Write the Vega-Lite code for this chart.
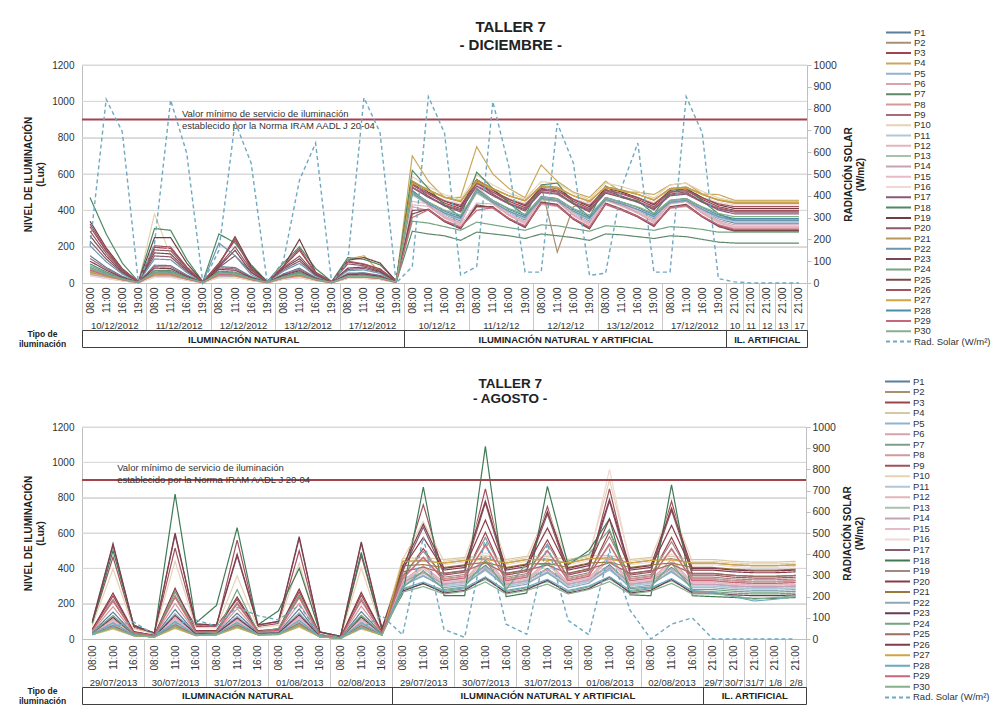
{
"$schema":"https://vega.github.io/schema/vega-lite/v6.json",
"background":"white",
"padding":{"left":18,"top":20,"right":0,"bottom":0},
"config":{"font":"Liberation Sans","view":{"stroke":null},"axis":{"labelFont":"Liberation Sans","titleFont":"Liberation Sans","labelColor":"#333","titleColor":"#222"},"legend":{"labelFont":"Liberation Sans","symbolLimit":40},"title":{"font":"Liberation Sans","fontWeight":"bold","color":"#222"}},
"datasets":{
"grid":[{"g":200},{"g":400},{"g":600},{"g":800},{"g":1000},{"g":1200}],
"top":[
{"i":1,"P1":150,"P2":75,"P3":310,"P4":60,"P5":55,"P6":50,"P7":105,"P8":55,"P9":135,"P10":45,"P11":50,"P12":50,"P13":50,"P14":45,"P15":40,"P16":40,"P17":230,"P18":470,"P19":340,"P20":285,"P21":60,"P22":205,"P23":120,"P24":95,"P25":260,"P26":325,"P27":65,"P28":85,"P29":70,"P30":80,"R":170},
{"i":2,"P1":86,"P2":46,"P3":176,"P4":38,"P5":35,"P6":33,"P7":61,"P8":35,"P9":79,"P10":28,"P11":30,"P12":30,"P13":33,"P14":28,"P15":25,"P16":25,"P17":132,"P18":270,"P19":194,"P20":163,"P21":38,"P22":117,"P23":71,"P24":56,"P25":148,"P26":183,"P27":41,"P28":51,"P29":43,"P30":48,"R":843},
{"i":3,"P1":37,"P2":20,"P3":72,"P4":17,"P5":16,"P6":15,"P7":26,"P8":16,"P9":34,"P10":13,"P11":14,"P12":14,"P13":15,"P14":13,"P15":12,"P16":12,"P17":55,"P18":110,"P19":79,"P20":67,"P21":17,"P22":49,"P23":30,"P24":24,"P25":61,"P26":75,"P27":18,"P28":22,"P29":19,"P30":21,"R":694},
{"i":4,"P1":3,"P2":2,"P3":6,"P4":2,"P5":2,"P6":2,"P7":3,"P8":2,"P9":3,"P10":2,"P11":2,"P12":2,"P13":2,"P14":2,"P15":2,"P16":2,"P17":5,"P18":8,"P19":6,"P20":5,"P21":2,"P22":4,"P23":3,"P24":3,"P25":5,"P26":6,"P27":2,"P28":3,"P29":2,"P30":3,"R":0},
{"i":5,"P1":98,"P2":54,"P3":196,"P4":45,"P5":42,"P6":40,"P7":70,"P8":42,"P9":90,"P10":380,"P11":37,"P12":37,"P13":40,"P14":34,"P15":31,"P16":31,"P17":149,"P18":300,"P19":250,"P20":182,"P21":45,"P22":132,"P23":82,"P24":65,"P25":166,"P26":205,"P27":48,"P28":59,"P29":51,"P30":56,"R":180},
{"i":6,"P1":96,"P2":52,"P3":190,"P4":44,"P5":42,"P6":39,"P7":69,"P8":42,"P9":88,"P10":150,"P11":36,"P12":36,"P13":39,"P14":34,"P15":31,"P16":31,"P17":144,"P18":290,"P19":250,"P20":177,"P21":44,"P22":128,"P23":79,"P24":63,"P25":160,"P26":198,"P27":47,"P28":58,"P29":50,"P30":55,"R":839},
{"i":7,"P1":44,"P2":24,"P3":86,"P4":21,"P5":20,"P6":18,"P7":32,"P8":20,"P9":40,"P10":60,"P11":17,"P12":17,"P13":18,"P14":16,"P15":15,"P16":15,"P17":65,"P18":130,"P19":110,"P20":80,"P21":21,"P22":58,"P23":36,"P24":29,"P25":72,"P26":89,"P27":22,"P28":27,"P29":23,"P30":26,"R":596},
{"i":8,"P1":3,"P2":2,"P3":6,"P4":2,"P5":2,"P6":2,"P7":3,"P8":2,"P9":3,"P10":2,"P11":2,"P12":2,"P13":2,"P14":2,"P15":2,"P16":2,"P17":5,"P18":8,"P19":6,"P20":5,"P21":2,"P22":4,"P23":3,"P24":3,"P25":5,"P26":6,"P27":2,"P28":3,"P29":2,"P30":3,"R":0},
{"i":9,"P1":90,"P2":50,"P3":110,"P4":43,"P5":40,"P6":38,"P7":65,"P8":40,"P9":83,"P10":33,"P11":35,"P12":35,"P13":38,"P14":33,"P15":30,"P16":30,"P17":85,"P18":270,"P19":100,"P20":95,"P21":43,"P22":220,"P23":75,"P24":60,"P25":90,"P26":105,"P27":45,"P28":55,"P29":48,"P30":53,"R":150},
{"i":10,"P1":85,"P2":48,"P3":235,"P4":40,"P5":38,"P6":36,"P7":60,"P8":38,"P9":78,"P10":32,"P11":34,"P12":34,"P13":36,"P14":32,"P15":30,"P16":30,"P17":150,"P18":220,"P19":255,"P20":200,"P21":40,"P22":150,"P23":70,"P24":56,"P25":180,"P26":245,"P27":42,"P28":52,"P29":45,"P30":50,"R":740},
{"i":11,"P1":35,"P2":21,"P3":80,"P4":18,"P5":17,"P6":16,"P7":26,"P8":17,"P9":32,"P10":15,"P11":15,"P12":15,"P13":16,"P14":15,"P15":14,"P16":14,"P17":60,"P18":100,"P19":90,"P20":70,"P21":18,"P22":46,"P23":30,"P24":24,"P25":58,"P26":75,"P27":19,"P28":23,"P29":20,"P30":22,"R":550},
{"i":12,"P1":3,"P2":2,"P3":6,"P4":2,"P5":2,"P6":2,"P7":3,"P8":2,"P9":3,"P10":2,"P11":2,"P12":2,"P13":2,"P14":2,"P15":2,"P16":2,"P17":5,"P18":8,"P19":6,"P20":5,"P21":2,"P22":4,"P23":3,"P24":3,"P25":5,"P26":6,"P27":2,"P28":3,"P29":2,"P30":3,"R":0},
{"i":13,"P1":50,"P2":30,"P3":90,"P4":26,"P5":25,"P6":24,"P7":38,"P8":25,"P9":46,"P10":21,"P11":23,"P12":23,"P13":24,"P14":21,"P15":20,"P16":20,"P17":72,"P18":110,"P19":90,"P20":85,"P21":26,"P22":65,"P23":43,"P24":35,"P25":80,"P26":95,"P27":28,"P28":33,"P29":29,"P30":31,"R":100},
{"i":14,"P1":82,"P2":46,"P3":180,"P4":40,"P5":38,"P6":35,"P7":60,"P8":38,"P9":75,"P10":31,"P11":33,"P12":33,"P13":35,"P14":31,"P15":29,"P16":29,"P17":121,"P18":200,"P19":240,"P20":148,"P21":40,"P22":108,"P23":68,"P24":55,"P25":134,"P26":190,"P27":42,"P28":51,"P29":44,"P30":49,"R":472},
{"i":15,"P1":30,"P2":18,"P3":54,"P4":16,"P5":16,"P6":15,"P7":23,"P8":16,"P9":28,"P10":14,"P11":14,"P12":14,"P13":15,"P14":14,"P15":13,"P16":13,"P17":42,"P18":80,"P19":60,"P20":50,"P21":16,"P22":38,"P23":25,"P24":21,"P25":46,"P26":56,"P27":17,"P28":20,"P29":18,"P30":19,"R":642},
{"i":16,"P1":3,"P2":2,"P3":6,"P4":2,"P5":2,"P6":2,"P7":3,"P8":2,"P9":3,"P10":2,"P11":2,"P12":2,"P13":2,"P14":2,"P15":2,"P16":2,"P17":5,"P18":8,"P19":6,"P20":5,"P21":2,"P22":4,"P23":3,"P24":3,"P25":5,"P26":6,"P27":2,"P28":3,"P29":2,"P30":3,"R":0},
{"i":17,"P1":54,"P2":34,"P3":115,"P4":130,"P5":30,"P6":28,"P7":42,"P8":30,"P9":50,"P10":26,"P11":27,"P12":27,"P13":28,"P14":26,"P15":25,"P16":25,"P17":75,"P18":140,"P19":125,"P20":105,"P21":31,"P22":68,"P23":46,"P24":39,"P25":82,"P26":120,"P27":32,"P28":37,"P29":33,"P30":36,"R":100},
{"i":18,"P1":56,"P2":36,"P3":102,"P4":150,"P5":30,"P6":29,"P7":43,"P8":30,"P9":53,"P10":27,"P11":28,"P12":28,"P13":29,"P14":27,"P15":25,"P16":25,"P17":80,"P18":130,"P19":140,"P20":95,"P21":32,"P22":72,"P23":49,"P24":41,"P25":88,"P26":105,"P27":33,"P28":38,"P29":34,"P30":37,"R":850},
{"i":19,"P1":42,"P2":26,"P3":75,"P4":60,"P5":23,"P6":22,"P7":32,"P8":23,"P9":39,"P10":20,"P11":21,"P12":21,"P13":22,"P14":20,"P15":19,"P16":19,"P17":59,"P18":100,"P19":110,"P20":70,"P21":24,"P22":53,"P23":36,"P24":30,"P25":64,"P26":78,"P27":25,"P28":28,"P29":25,"P30":27,"R":690},
{"i":20,"P1":5,"P2":4,"P3":9,"P4":6,"P5":4,"P6":4,"P7":5,"P8":4,"P9":5,"P10":3,"P11":3,"P12":3,"P13":4,"P14":3,"P15":3,"P16":3,"P17":7,"P18":12,"P19":10,"P20":8,"P21":4,"P22":6,"P23":5,"P24":4,"P25":7,"P26":9,"P27":4,"P28":5,"P29":4,"P30":5,"R":0},
{"i":21,"P1":510,"P2":560,"P3":550,"P4":700,"P5":490,"P6":420,"P7":285,"P8":505,"P9":530,"P10":585,"P11":500,"P12":430,"P13":485,"P14":500,"P15":450,"P16":535,"P17":545,"P18":620,"P19":560,"P20":525,"P21":560,"P22":495,"P23":400,"P24":340,"P25":380,"P26":540,"P27":550,"P28":505,"P29":360,"P30":500,"R":75},
{"i":22,"P1":438,"P2":512,"P3":490,"P4":560,"P5":430,"P6":399,"P7":270,"P8":427,"P9":476,"P10":531,"P11":434,"P12":422,"P13":431,"P14":428,"P15":436,"P16":493,"P17":479,"P18":520,"P19":500,"P20":471,"P21":512,"P22":435,"P23":402,"P24":330,"P25":407,"P26":492,"P27":508,"P28":445,"P29":403,"P30":446,"R":855},
{"i":23,"P1":378,"P2":472,"P3":440,"P4":470,"P5":380,"P6":344,"P7":260,"P8":362,"P9":431,"P10":486,"P11":379,"P12":357,"P13":386,"P14":368,"P15":366,"P16":458,"P17":424,"P18":430,"P19":450,"P20":426,"P21":472,"P22":385,"P23":337,"P24":310,"P25":342,"P26":452,"P27":473,"P28":395,"P29":343,"P30":401,"R":688},
{"i":24,"P1":342,"P2":448,"P3":410,"P4":471,"P5":350,"P6":311,"P7":235,"P8":323,"P9":404,"P10":459,"P11":346,"P12":318,"P13":359,"P14":332,"P15":324,"P16":437,"P17":391,"P18":363,"P19":420,"P20":399,"P21":448,"P22":355,"P23":298,"P24":290,"P25":303,"P26":428,"P27":452,"P28":365,"P29":307,"P30":374,"R":37},
{"i":25,"P1":522,"P2":568,"P3":560,"P4":750,"P5":500,"P6":420,"P7":280,"P8":518,"P9":539,"P10":594,"P11":511,"P12":440,"P13":494,"P14":512,"P15":534,"P16":542,"P17":556,"P18":610,"P19":570,"P20":534,"P21":568,"P22":505,"P23":430,"P24":335,"P25":420,"P26":548,"P27":557,"P28":515,"P29":400,"P30":509,"R":75},
{"i":26,"P1":450,"P2":520,"P3":500,"P4":600,"P5":440,"P6":410,"P7":270,"P8":440,"P9":485,"P10":540,"P11":445,"P12":435,"P13":440,"P14":440,"P15":450,"P16":500,"P17":490,"P18":520,"P19":510,"P20":480,"P21":520,"P22":445,"P23":415,"P24":320,"P25":420,"P26":500,"P27":515,"P28":455,"P29":415,"P30":455,"R":832},
{"i":27,"P1":390,"P2":480,"P3":450,"P4":520,"P5":390,"P6":355,"P7":260,"P8":375,"P9":440,"P10":495,"P11":390,"P12":370,"P13":395,"P14":380,"P15":380,"P16":465,"P17":435,"P18":440,"P19":460,"P20":435,"P21":480,"P22":395,"P23":350,"P24":305,"P25":355,"P26":460,"P27":480,"P28":405,"P29":355,"P30":410,"R":533},
{"i":28,"P1":348,"P2":452,"P3":415,"P4":470,"P5":355,"P6":316,"P7":245,"P8":330,"P9":408,"P10":463,"P11":352,"P12":325,"P13":363,"P14":338,"P15":331,"P16":440,"P17":396,"P18":372,"P19":425,"P20":403,"P21":452,"P22":360,"P23":305,"P24":290,"P25":310,"P26":432,"P27":455,"P28":370,"P29":313,"P30":378,"R":50},
{"i":29,"P1":474,"P2":536,"P3":520,"P4":650,"P5":460,"P6":432,"P7":270,"P8":466,"P9":503,"P10":558,"P11":467,"P12":461,"P13":458,"P14":464,"P15":478,"P16":514,"P17":512,"P18":540,"P19":530,"P20":498,"P21":536,"P22":465,"P23":441,"P24":320,"P25":446,"P26":516,"P27":529,"P28":475,"P29":439,"P30":473,"R":50},
{"i":30,"P1":462,"P2":170,"P3":510,"P4":560,"P5":450,"P6":421,"P7":260,"P8":453,"P9":494,"P10":549,"P11":456,"P12":448,"P13":449,"P14":452,"P15":464,"P16":507,"P17":501,"P18":550,"P19":520,"P20":489,"P21":528,"P22":455,"P23":428,"P24":315,"P25":433,"P26":508,"P27":522,"P28":465,"P29":427,"P30":464,"R":733},
{"i":31,"P1":390,"P2":420,"P3":450,"P4":500,"P5":390,"P6":355,"P7":250,"P8":375,"P9":440,"P10":495,"P11":390,"P12":370,"P13":395,"P14":380,"P15":380,"P16":465,"P17":435,"P18":440,"P19":460,"P20":435,"P21":480,"P22":395,"P23":350,"P24":300,"P25":355,"P26":460,"P27":480,"P28":405,"P29":355,"P30":410,"R":550},
{"i":32,"P1":342,"P2":448,"P3":410,"P4":471,"P5":350,"P6":311,"P7":235,"P8":323,"P9":404,"P10":459,"P11":346,"P12":318,"P13":359,"P14":332,"P15":324,"P16":437,"P17":391,"P18":363,"P19":420,"P20":399,"P21":448,"P22":355,"P23":298,"P24":285,"P25":303,"P26":428,"P27":452,"P28":365,"P29":307,"P30":374,"R":35},
{"i":33,"P1":470,"P2":530,"P3":515,"P4":560,"P5":455,"P6":430,"P7":270,"P8":460,"P9":500,"P10":550,"P11":462,"P12":455,"P13":455,"P14":460,"P15":470,"P16":510,"P17":508,"P18":535,"P19":525,"P20":495,"P21":530,"P22":460,"P23":435,"P24":315,"P25":440,"P26":512,"P27":525,"P28":470,"P29":435,"P30":470,"R":45},
{"i":34,"P1":438,"P2":510,"P3":490,"P4":500,"P5":430,"P6":399,"P7":265,"P8":427,"P9":476,"P10":531,"P11":434,"P12":422,"P13":431,"P14":428,"P15":436,"P16":493,"P17":479,"P18":470,"P19":500,"P20":471,"P21":512,"P22":435,"P23":402,"P24":310,"P25":407,"P26":492,"P27":508,"P28":445,"P29":403,"P30":446,"R":440},
{"i":35,"P1":402,"P2":488,"P3":460,"P4":500,"P5":400,"P6":366,"P7":255,"P8":388,"P9":449,"P10":504,"P11":401,"P12":383,"P13":404,"P14":392,"P15":394,"P16":472,"P17":446,"P18":453,"P19":470,"P20":444,"P21":488,"P22":405,"P23":363,"P24":300,"P25":368,"P26":468,"P27":487,"P28":415,"P29":367,"P30":419,"R":642},
{"i":36,"P1":354,"P2":456,"P3":420,"P4":487,"P5":360,"P6":322,"P7":245,"P8":336,"P9":413,"P10":468,"P11":357,"P12":331,"P13":368,"P14":344,"P15":338,"P16":444,"P17":402,"P18":381,"P19":430,"P20":408,"P21":456,"P22":365,"P23":311,"P24":290,"P25":316,"P26":436,"P27":459,"P28":375,"P29":319,"P30":383,"R":50},
{"i":37,"P1":450,"P2":520,"P3":500,"P4":540,"P5":440,"P6":410,"P7":260,"P8":440,"P9":485,"P10":540,"P11":445,"P12":435,"P13":440,"P14":440,"P15":450,"P16":500,"P17":490,"P18":500,"P19":510,"P20":480,"P21":520,"P22":445,"P23":415,"P24":310,"P25":420,"P26":500,"P27":515,"P28":455,"P29":415,"P30":455,"R":50},
{"i":38,"P1":462,"P2":528,"P3":510,"P4":550,"P5":450,"P6":421,"P7":255,"P8":453,"P9":494,"P10":549,"P11":456,"P12":448,"P13":449,"P14":452,"P15":464,"P16":507,"P17":501,"P18":520,"P19":520,"P20":489,"P21":528,"P22":455,"P23":428,"P24":305,"P25":433,"P26":508,"P27":522,"P28":465,"P29":427,"P30":464,"R":855},
{"i":39,"P1":402,"P2":488,"P3":460,"P4":490,"P5":400,"P6":366,"P7":240,"P8":388,"P9":449,"P10":504,"P11":401,"P12":383,"P13":404,"P14":392,"P15":394,"P16":472,"P17":446,"P18":453,"P19":470,"P20":444,"P21":488,"P22":405,"P23":363,"P24":295,"P25":368,"P26":468,"P27":487,"P28":415,"P29":367,"P30":419,"R":688},
{"i":40,"P1":354,"P2":456,"P3":420,"P4":487,"P5":360,"P6":322,"P7":225,"P8":336,"P9":413,"P10":468,"P11":357,"P12":331,"P13":368,"P14":344,"P15":338,"P16":444,"P17":402,"P18":381,"P19":430,"P20":408,"P21":456,"P22":365,"P23":311,"P24":280,"P25":316,"P26":436,"P27":459,"P28":375,"P29":319,"P30":383,"R":20},
{"i":41,"P1":330,"P2":440,"P3":400,"P4":455,"P5":340,"P6":300,"P7":220,"P8":310,"P9":395,"P10":450,"P11":335,"P12":305,"P13":350,"P14":320,"P15":310,"P16":430,"P17":380,"P18":345,"P19":410,"P20":390,"P21":440,"P22":345,"P23":285,"P24":280,"P25":290,"P26":420,"P27":445,"P28":355,"P29":295,"P30":365,"R":5},
{"i":42,"P1":330,"P2":440,"P3":400,"P4":455,"P5":340,"P6":300,"P7":220,"P8":310,"P9":395,"P10":450,"P11":335,"P12":305,"P13":350,"P14":320,"P15":310,"P16":430,"P17":380,"P18":345,"P19":410,"P20":390,"P21":440,"P22":345,"P23":285,"P24":280,"P25":290,"P26":420,"P27":445,"P28":355,"P29":295,"P30":365,"R":0},
{"i":43,"P1":330,"P2":440,"P3":400,"P4":455,"P5":340,"P6":300,"P7":220,"P8":310,"P9":395,"P10":450,"P11":335,"P12":305,"P13":350,"P14":320,"P15":310,"P16":430,"P17":380,"P18":345,"P19":410,"P20":390,"P21":440,"P22":345,"P23":285,"P24":280,"P25":290,"P26":420,"P27":445,"P28":355,"P29":295,"P30":365,"R":0},
{"i":44,"P1":330,"P2":440,"P3":400,"P4":455,"P5":340,"P6":300,"P7":220,"P8":310,"P9":395,"P10":450,"P11":335,"P12":305,"P13":350,"P14":320,"P15":310,"P16":430,"P17":380,"P18":345,"P19":410,"P20":390,"P21":440,"P22":345,"P23":285,"P24":280,"P25":290,"P26":420,"P27":445,"P28":355,"P29":295,"P30":365,"R":0},
{"i":45,"P1":330,"P2":440,"P3":400,"P4":455,"P5":340,"P6":300,"P7":220,"P8":310,"P9":395,"P10":450,"P11":335,"P12":305,"P13":350,"P14":320,"P15":310,"P16":430,"P17":380,"P18":345,"P19":410,"P20":390,"P21":440,"P22":345,"P23":285,"P24":280,"P25":290,"P26":420,"P27":445,"P28":355,"P29":295,"P30":365,"R":0}
],
"bot":[
{"i":1,"P1":39,"P2":26,"P3":54,"P4":24,"P5":30,"P6":33,"P7":26,"P8":44,"P9":88,"P10":78,"P11":29,"P12":32,"P13":26,"P14":28,"P15":31,"P16":27,"P17":98,"P18":90,"P19":50,"P20":56,"P21":26,"P22":36,"P23":34,"P24":36,"P25":27,"P26":100,"P27":25,"P28":30,"P29":49,"P30":26,"R":20},
{"i":2,"P1":152,"P2":71,"P3":244,"P4":56,"P5":96,"P6":112,"P7":71,"P8":183,"P9":464,"P10":397,"P11":86,"P12":107,"P13":71,"P14":81,"P15":101,"P16":76,"P17":530,"P18":500,"P19":224,"P20":260,"P21":66,"P22":132,"P23":122,"P24":132,"P25":76,"P26":540,"P27":61,"P28":91,"P29":214,"P30":66,"R":60},
{"i":3,"P1":29,"P2":20,"P3":40,"P4":18,"P5":23,"P6":25,"P7":20,"P8":33,"P9":66,"P10":58,"P11":22,"P12":24,"P13":20,"P14":21,"P15":23,"P16":20,"P17":74,"P18":80,"P19":38,"P20":42,"P21":19,"P22":27,"P23":26,"P24":27,"P25":20,"P26":75,"P27":19,"P28":22,"P29":37,"P30":19,"R":80},
{"i":4,"P1":16,"P2":12,"P3":20,"P4":11,"P5":13,"P6":14,"P7":12,"P8":17,"P9":31,"P10":28,"P11":13,"P12":14,"P13":12,"P14":12,"P15":13,"P16":12,"P17":34,"P18":30,"P19":19,"P20":21,"P21":12,"P22":15,"P23":14,"P24":15,"P25":12,"P26":35,"P27":11,"P28":13,"P29":19,"P30":12,"R":20},
{"i":5,"P1":167,"P2":76,"P3":269,"P4":59,"P5":104,"P6":121,"P7":76,"P8":201,"P9":515,"P10":440,"P11":93,"P12":116,"P13":76,"P14":87,"P15":110,"P16":81,"P17":589,"P18":820,"P19":247,"P20":287,"P21":70,"P22":144,"P23":133,"P24":270,"P25":81,"P26":600,"P27":64,"P28":98,"P29":235,"P30":70,"R":70},
{"i":6,"P1":32,"P2":21,"P3":70,"P4":19,"P5":24,"P6":26,"P7":21,"P8":36,"P9":75,"P10":65,"P11":23,"P12":26,"P13":21,"P14":22,"P15":25,"P16":21,"P17":84,"P18":90,"P19":42,"P20":47,"P21":20,"P22":29,"P23":28,"P24":40,"P25":21,"P26":85,"P27":19,"P28":23,"P29":40,"P30":20,"R":90},
{"i":7,"P1":34,"P2":25,"P3":75,"P4":23,"P5":28,"P6":30,"P7":25,"P8":38,"P9":71,"P10":63,"P11":27,"P12":29,"P13":25,"P14":26,"P15":28,"P16":25,"P17":79,"P18":190,"P19":43,"P20":47,"P21":24,"P22":32,"P23":31,"P24":32,"P25":25,"P26":80,"P27":24,"P28":27,"P29":42,"P30":24,"R":60},
{"i":8,"P1":146,"P2":75,"P3":225,"P4":62,"P5":97,"P6":110,"P7":75,"P8":172,"P9":560,"P10":357,"P11":88,"P12":106,"P13":75,"P14":84,"P15":102,"P16":80,"P17":470,"P18":630,"P19":207,"P20":238,"P21":71,"P22":128,"P23":119,"P24":280,"P25":80,"P26":480,"P27":66,"P28":93,"P29":198,"P30":71,"R":150},
{"i":9,"P1":34,"P2":25,"P3":45,"P4":23,"P5":28,"P6":30,"P7":25,"P8":38,"P9":71,"P10":63,"P11":27,"P12":29,"P13":25,"P14":26,"P15":28,"P16":25,"P17":79,"P18":80,"P19":43,"P20":47,"P21":24,"P22":32,"P23":31,"P24":40,"P25":25,"P26":80,"P27":24,"P28":27,"P29":42,"P30":24,"R":110},
{"i":10,"P1":39,"P2":26,"P3":54,"P4":24,"P5":30,"P6":33,"P7":26,"P8":44,"P9":88,"P10":78,"P11":29,"P12":32,"P13":26,"P14":28,"P15":31,"P16":27,"P17":98,"P18":160,"P19":50,"P20":56,"P21":26,"P22":36,"P23":34,"P24":60,"P25":27,"P26":100,"P27":25,"P28":30,"P29":49,"P30":26,"R":90},
{"i":11,"P1":170,"P2":83,"P3":267,"P4":67,"P5":110,"P6":126,"P7":83,"P8":202,"P9":500,"P10":429,"P11":99,"P12":121,"P13":83,"P14":94,"P15":116,"P16":89,"P17":569,"P18":400,"P19":245,"P20":283,"P21":78,"P22":148,"P23":137,"P24":250,"P25":89,"P26":580,"P27":72,"P28":105,"P29":234,"P30":78,"R":160},
{"i":12,"P1":17,"P2":12,"P3":23,"P4":12,"P5":14,"P6":15,"P7":12,"P8":19,"P9":36,"P10":32,"P11":13,"P12":15,"P13":12,"P14":13,"P15":14,"P16":13,"P17":39,"P18":40,"P19":21,"P20":24,"P21":12,"P22":16,"P23":15,"P24":20,"P25":13,"P26":40,"P27":12,"P28":14,"P29":21,"P30":12,"R":20},
{"i":13,"P1":6,"P2":4,"P3":8,"P4":4,"P5":5,"P6":5,"P7":4,"P8":7,"P9":13,"P10":12,"P11":4,"P12":5,"P13":4,"P14":4,"P15":5,"P16":4,"P17":15,"P18":15,"P19":8,"P20":8,"P21":4,"P22":5,"P23":5,"P24":5,"P25":4,"P26":15,"P27":4,"P28":4,"P29":7,"P30":4,"R":10},
{"i":14,"P1":155,"P2":72,"P3":248,"P4":56,"P5":98,"P6":113,"P7":72,"P8":186,"P9":472,"P10":404,"P11":87,"P12":108,"P13":72,"P14":82,"P15":103,"P16":77,"P17":540,"P18":490,"P19":228,"P20":264,"P21":66,"P22":134,"P23":124,"P24":134,"P25":77,"P26":550,"P27":61,"P28":92,"P29":217,"P30":66,"R":50},
{"i":15,"P1":30,"P2":23,"P3":37,"P4":22,"P5":25,"P6":26,"P7":23,"P8":32,"P9":54,"P10":49,"P11":24,"P12":26,"P13":23,"P14":24,"P15":26,"P16":24,"P17":59,"P18":50,"P19":35,"P20":38,"P21":23,"P22":28,"P23":27,"P24":28,"P25":24,"P26":60,"P27":22,"P28":25,"P29":34,"P30":23,"R":110},
{"i":16,"P1":320,"P2":440,"P3":350,"P4":455,"P5":310,"P6":330,"P7":280,"P8":350,"P9":375,"P10":450,"P11":310,"P12":320,"P13":340,"P14":320,"P15":330,"P16":430,"P17":385,"P18":255,"P19":360,"P20":400,"P21":415,"P22":300,"P23":270,"P24":290,"P25":380,"P26":410,"P27":440,"P28":285,"P29":340,"P30":265,"R":20},
{"i":17,"P1":378,"P2":446,"P3":512,"P4":461,"P5":355,"P6":414,"P7":312,"P8":460,"P9":760,"P10":664,"P11":363,"P12":399,"P13":377,"P14":373,"P15":401,"P16":462,"P17":633,"P18":860,"P19":496,"P20":575,"P21":421,"P22":358,"P23":315,"P24":387,"P25":407,"P26":650,"P27":441,"P28":322,"P29":463,"P30":297,"R":480},
{"i":18,"P1":310,"P2":430,"P3":340,"P4":450,"P5":300,"P6":320,"P7":268,"P8":340,"P9":362,"P10":440,"P11":300,"P12":310,"P13":330,"P14":310,"P15":320,"P16":420,"P17":372,"P18":245,"P19":350,"P20":390,"P21":405,"P22":290,"P23":260,"P24":280,"P25":370,"P26":400,"P27":430,"P28":275,"P29":330,"P30":255,"R":45},
{"i":19,"P1":325,"P2":445,"P3":355,"P4":462,"P5":315,"P6":335,"P7":285,"P8":355,"P9":378,"P10":455,"P11":315,"P12":325,"P13":345,"P14":325,"P15":335,"P16":435,"P17":388,"P18":245,"P19":365,"P20":405,"P21":420,"P22":305,"P23":275,"P24":295,"P25":385,"P26":415,"P27":445,"P28":290,"P29":345,"P30":270,"R":8},
{"i":20,"P1":417,"P2":459,"P3":603,"P4":471,"P5":388,"P6":466,"P7":338,"P8":525,"P9":850,"P10":781,"P11":399,"P12":448,"P13":406,"P14":409,"P15":447,"P16":488,"P17":770,"P18":1090,"P19":574,"P20":673,"P21":434,"P22":397,"P23":348,"P24":446,"P25":430,"P26":780,"P27":451,"P28":351,"P29":535,"P30":323,"R":480},
{"i":21,"P1":310,"P2":430,"P3":340,"P4":450,"P5":300,"P6":320,"P7":268,"P8":340,"P9":362,"P10":440,"P11":300,"P12":310,"P13":330,"P14":310,"P15":320,"P16":420,"P17":372,"P18":240,"P19":350,"P20":390,"P21":405,"P22":290,"P23":260,"P24":280,"P25":370,"P26":400,"P27":430,"P28":275,"P29":330,"P30":255,"R":70},
{"i":22,"P1":330,"P2":450,"P3":360,"P4":468,"P5":320,"P6":340,"P7":290,"P8":360,"P9":382,"P10":460,"P11":320,"P12":330,"P13":350,"P14":330,"P15":340,"P16":440,"P17":392,"P18":260,"P19":370,"P20":410,"P21":425,"P22":310,"P23":280,"P24":430,"P25":390,"P26":420,"P27":450,"P28":295,"P29":350,"P30":275,"R":22},
{"i":23,"P1":399,"P2":453,"P3":561,"P4":466,"P5":373,"P6":442,"P7":326,"P8":495,"P9":750,"P10":727,"P11":382,"P12":425,"P13":393,"P14":392,"P15":426,"P16":476,"P17":707,"P18":864,"P19":538,"P20":628,"P21":428,"P22":379,"P23":333,"P24":419,"P25":419,"P26":720,"P27":446,"P28":338,"P29":502,"P30":311,"R":450},
{"i":24,"P1":310,"P2":430,"P3":340,"P4":450,"P5":300,"P6":320,"P7":268,"P8":340,"P9":362,"P10":440,"P11":300,"P12":310,"P13":330,"P14":310,"P15":320,"P16":420,"P17":372,"P18":420,"P19":350,"P20":390,"P21":405,"P22":290,"P23":260,"P24":440,"P25":370,"P26":400,"P27":430,"P28":275,"P29":330,"P30":255,"R":88},
{"i":25,"P1":335,"P2":455,"P3":365,"P4":472,"P5":325,"P6":345,"P7":295,"P8":365,"P9":388,"P10":465,"P11":325,"P12":335,"P13":355,"P14":335,"P15":345,"P16":445,"P17":398,"P18":500,"P19":375,"P20":415,"P21":430,"P22":315,"P23":285,"P24":480,"P25":395,"P26":425,"P27":455,"P28":300,"P29":355,"P30":280,"R":20},
{"i":26,"P1":420,"P2":460,"P3":610,"P4":472,"P5":390,"P6":470,"P7":340,"P8":530,"P9":850,"P10":900,"P11":402,"P12":452,"P13":408,"P14":412,"P15":450,"P16":960,"P17":780,"P18":680,"P19":580,"P20":680,"P21":435,"P22":400,"P23":350,"P24":620,"P25":432,"P26":790,"P27":452,"P28":353,"P29":540,"P30":325,"R":420},
{"i":27,"P1":310,"P2":430,"P3":340,"P4":450,"P5":300,"P6":320,"P7":268,"P8":340,"P9":362,"P10":440,"P11":300,"P12":310,"P13":330,"P14":310,"P15":320,"P16":420,"P17":372,"P18":250,"P19":350,"P20":390,"P21":405,"P22":290,"P23":260,"P24":285,"P25":370,"P26":400,"P27":430,"P28":275,"P29":330,"P30":255,"R":135},
{"i":28,"P1":325,"P2":445,"P3":355,"P4":462,"P5":315,"P6":335,"P7":285,"P8":355,"P9":378,"P10":455,"P11":315,"P12":325,"P13":345,"P14":325,"P15":335,"P16":435,"P17":388,"P18":245,"P19":365,"P20":405,"P21":420,"P22":305,"P23":275,"P24":295,"P25":385,"P26":415,"P27":445,"P28":290,"P29":345,"P30":270,"R":0},
{"i":29,"P1":405,"P2":455,"P3":575,"P4":468,"P5":378,"P6":450,"P7":330,"P8":505,"P9":780,"P10":745,"P11":388,"P12":433,"P13":397,"P14":398,"P15":433,"P16":480,"P17":728,"P18":873,"P19":550,"P20":643,"P21":430,"P22":385,"P23":338,"P24":428,"P25":423,"P26":740,"P27":448,"P28":342,"P29":513,"P30":315,"R":70},
{"i":30,"P1":310,"P2":430,"P3":340,"P4":450,"P5":300,"P6":320,"P7":268,"P8":340,"P9":362,"P10":440,"P11":300,"P12":310,"P13":330,"P14":310,"P15":320,"P16":420,"P17":372,"P18":245,"P19":350,"P20":390,"P21":405,"P22":290,"P23":260,"P24":280,"P25":370,"P26":400,"P27":430,"P28":275,"P29":330,"P30":255,"R":100},
{"i":31,"P1":310,"P2":430,"P3":340,"P4":450,"P5":300,"P6":320,"P7":268,"P8":340,"P9":362,"P10":440,"P11":300,"P12":310,"P13":330,"P14":310,"P15":320,"P16":420,"P17":372,"P18":240,"P19":350,"P20":390,"P21":405,"P22":290,"P23":260,"P24":280,"P25":370,"P26":400,"P27":430,"P28":265,"P29":330,"P30":255,"R":0},
{"i":32,"P1":300,"P2":420,"P3":330,"P4":440,"P5":290,"P6":310,"P7":260,"P8":330,"P9":350,"P10":430,"P11":290,"P12":300,"P13":320,"P14":300,"P15":310,"P16":410,"P17":360,"P18":235,"P19":340,"P20":380,"P21":395,"P22":280,"P23":250,"P24":270,"P25":360,"P26":390,"P27":420,"P28":240,"P29":320,"P30":245,"R":0},
{"i":33,"P1":295,"P2":415,"P3":325,"P4":435,"P5":285,"P6":305,"P7":255,"P8":325,"P9":345,"P10":425,"P11":285,"P12":295,"P13":315,"P14":295,"P15":305,"P16":405,"P17":355,"P18":230,"P19":335,"P20":375,"P21":390,"P22":275,"P23":245,"P24":265,"P25":355,"P26":385,"P27":415,"P28":215,"P29":315,"P30":225,"R":0},
{"i":34,"P1":295,"P2":415,"P3":325,"P4":435,"P5":285,"P6":305,"P7":255,"P8":325,"P9":345,"P10":425,"P11":285,"P12":295,"P13":315,"P14":295,"P15":305,"P16":405,"P17":355,"P18":230,"P19":335,"P20":375,"P21":390,"P22":275,"P23":245,"P24":265,"P25":355,"P26":385,"P27":415,"P28":225,"P29":315,"P30":235,"R":0},
{"i":35,"P1":300,"P2":420,"P3":330,"P4":440,"P5":290,"P6":310,"P7":260,"P8":330,"P9":350,"P10":430,"P11":290,"P12":300,"P13":320,"P14":300,"P15":310,"P16":410,"P17":360,"P18":235,"P19":340,"P20":380,"P21":395,"P22":280,"P23":250,"P24":270,"P25":360,"P26":390,"P27":420,"P28":240,"P29":320,"P30":245,"R":0}
]
},
"spacing":28,
"resolve":{"scale":{"color":"independent","strokeDash":"independent"},"legend":{"color":"independent","strokeDash":"independent"}},
"vconcat":[
{
"title":{"text":["TALLER 7","- DICIEMBRE -"],"fontSize":15,"lineHeight":18,"offset":-25,"dx":6,"anchor":"middle","frame":"bounds"},
"width":725,"height":218,
"layer":[
{"layer":[
{"data":{"name":"grid"},"mark":{"type":"rule","color":"#d9d9d9","strokeWidth":1},
"encoding":{"y":{"field":"g","type":"quantitative","scale":{"domain":[0,1200],"nice":false},"axis":{"orient":"left","values":[0,200,400,600,800,1000,1200],"format":"d","title":["NIVEL DE ILUMINACIÓN","(Lux)"],"titleFontSize":10,"titleFontWeight":"bold","titlePadding":6,"labelFontSize":10,"labelPadding":8,"labelOverlap":false,"ticks":false,"grid":true,"gridColor":"#d9d9d9","domainColor":"#bfbfbf"}}}},
{"data":{"name":"top"},
"transform":[{"fold":["P1","P2","P3","P4","P5","P6","P7","P8","P9","P10","P11","P12","P13","P14","P15","P16","P17","P18","P19","P20","P21","P22","P23","P24","P25","P26","P27","P28","P29","P30"],"as":["serie","v"]}],
"mark":{"type":"line","strokeWidth":1.2},
"encoding":{
"x":{"field":"i","type":"quantitative","scale":{"domain":[0.5,45.5],"nice":false,"zero":false},"axis":{"orient":"bottom","title":null,"values":[1,2,3,4,5,6,7,8,9,10,11,12,13,14,15,16,17,18,19,20,21,22,23,24,25,26,27,28,29,30,31,32,33,34,35,36,37,38,39,40,41,42,43,44,45],"labelExpr":"datum.value>40?'21:00':['08:00','11:00','16:00','19:00'][(datum.value-1)%4]","labelAngle":270,"labelFontSize":10.5,"labelPadding":4,"ticks":false,"domain":true,"domainColor":"#bfbfbf","grid":false,"labelOverlap":false,"labelFlush":false}},
"y":{"field":"v","type":"quantitative","scale":{"domain":[0,1200],"nice":false},"axis":{"orient":"left","values":[0,200,400,600,800,1000,1200],"format":"d","title":["NIVEL DE ILUMINACIÓN","(Lux)"],"titleFontSize":10,"titleFontWeight":"bold","titlePadding":6,"labelFontSize":10,"labelPadding":8,"labelOverlap":false,"ticks":false,"grid":true,"gridColor":"#d9d9d9","domainColor":"#bfbfbf"}},
"color":{"field":"serie","type":"nominal","scale":{"domain":["P1","P2","P3","P4","P5","P6","P7","P8","P9","P10","P11","P12","P13","P14","P15","P16","P17","P18","P19","P20","P21","P22","P23","P24","P25","P26","P27","P28","P29","P30","R"],"range":["#5b7f99","#a89070","#a0434f","#c9a85a","#90b4cf","#d9a3ad","#5f8a6a","#d49a9a","#a86a7c","#e6d3b3","#afc8dc","#e3b5bd","#a9c2a9","#c4a3b5","#e8b9c7","#f0d9d3","#8a5a72","#4c8a62","#6e3e42","#8c5a6e","#b8975a","#6f96b0","#7a4456","#74a47e","#7d4a48","#a3535f","#cfa63f","#4d8fa8","#c8677a","#86b08a","#6ea9c0"]},"legend":{"orient":"none","legendX":803,"legendY":-37,"title":null,"symbolType":"stroke","symbolSize":625,"symbolStrokeWidth":2,"clipHeight":9,"rowPadding":0.3,"labelFontSize":9.5,"labelOffset":2,"labelColor":"#333","padding":0,"symbolLimit":40,"labelExpr":"datum.label=='R'?'Rad. Solar (W/m²)':datum.label"}},
"strokeDash":{"field":"serie","type":"nominal","scale":{"domain":["P1","P2","P3","P4","P5","P6","P7","P8","P9","P10","P11","P12","P13","P14","P15","P16","P17","P18","P19","P20","P21","P22","P23","P24","P25","P26","P27","P28","P29","P30","R"],"range":[[1,0],[1,0],[1,0],[1,0],[1,0],[1,0],[1,0],[1,0],[1,0],[1,0],[1,0],[1,0],[1,0],[1,0],[1,0],[1,0],[1,0],[1,0],[1,0],[1,0],[1,0],[1,0],[1,0],[1,0],[1,0],[1,0],[1,0],[1,0],[1,0],[1,0],[4,3]]},"legend":{"orient":"none","legendX":803,"legendY":-37,"title":null,"symbolType":"stroke","symbolSize":625,"symbolStrokeWidth":2,"clipHeight":9,"rowPadding":0.3,"labelFontSize":9.5,"labelOffset":2,"labelColor":"#333","padding":0,"symbolLimit":40,"labelExpr":"datum.label=='R'?'Rad. Solar (W/m²)':datum.label"}}
}},
{"data":{"values":[{"a":0.5,"b":45.5,"y":900}]},
"mark":{"type":"rule","color":"#a3434e","strokeWidth":2},
"encoding":{
"x":{"field":"a","type":"quantitative","scale":{"domain":[0.5,45.5],"nice":false,"zero":false},"axis":{"orient":"bottom","title":null,"values":[0.5,4.5,8.5,12.5,16.5,20.5,24.5,28.5,32.5,36.5,40.5,41.5,42.5,43.5,44.5,45.5],"labels":false,"ticks":true,"tickSize":47,"tickColor":"#c8c8c8","domain":false,"grid":false}},
"x2":{"field":"b"},
"y":{"field":"y","type":"quantitative","scale":{"domain":[0,1200],"nice":false},"axis":{"orient":"left","values":[0,200,400,600,800,1000,1200],"format":"d","title":["NIVEL DE ILUMINACIÓN","(Lux)"],"titleFontSize":10,"titleFontWeight":"bold","titlePadding":6,"labelFontSize":10,"labelPadding":8,"labelOverlap":false,"ticks":false,"grid":true,"gridColor":"#d9d9d9","domainColor":"#bfbfbf"}}}},
{"data":{"values":[{"i":6.7,"v":905,"t":"Valor mínimo de servicio de iluminación\nestablecido por la Norma IRAM AADL J 20-04"}]},
"mark":{"type":"text","align":"left","baseline":"bottom","lineBreak":"\n","fontSize":9.5,"lineHeight":12,"color":"#333"},
"encoding":{
"x":{"field":"i","type":"quantitative","scale":{"domain":[0.5,45.5],"nice":false,"zero":false},"axis":{"orient":"bottom","offset":47,"values":[0.5,10.5,20.5,30.5,40.5,43,45.5],"tickSize":17,"tickColor":"#404040","tickOpacity":{"condition":{"test":"datum.value==10.5||datum.value==30.5||datum.value==43","value":0},"value":1},"labelExpr":"datum.value==10.5?'ILUMINACIÓN NATURAL':datum.value==30.5?'ILUMINACIÓN NATURAL Y ARTIFICIAL':datum.value==43?'IL. ARTIFICIAL':''","labelPadding":-8,"labelBaseline":"middle","labelFontSize":9.5,"labelFontWeight":"bold","labelColor":"#222","labelOverlap":false,"labelFlush":false,"domain":true,"domainColor":"#404040","grid":false,"title":["Tipo de","iluminación"],"titleX":-40,"titleY":3,"titleAngle":0,"titleAlign":"center","titleBaseline":"middle","titleFontSize":8.5,"titleFontWeight":"bold","titleLineHeight":10}},
"y":{"field":"v","type":"quantitative","scale":{"domain":[0,1200],"nice":false},"axis":{"orient":"left","values":[0,200,400,600,800,1000,1200],"format":"d","title":["NIVEL DE ILUMINACIÓN","(Lux)"],"titleFontSize":10,"titleFontWeight":"bold","titlePadding":6,"labelFontSize":10,"labelPadding":8,"labelOverlap":false,"ticks":false,"grid":true,"gridColor":"#d9d9d9","domainColor":"#bfbfbf"}},
"text":{"field":"t"}}}
],
"resolve":{"axis":{"x":"independent"}}},
{"data":{"name":"top"},
"transform":[{"fold":["R"],"as":["serie","r"]}],
"mark":{"type":"line","strokeWidth":1.4},
"encoding":{
"x":{"field":"i","type":"quantitative","scale":{"domain":[0.5,45.5],"nice":false,"zero":false},"axis":{"orient":"bottom","offset":64,"title":null,"values":[2.5,6.5,10.5,14.5,18.5,22.5,26.5,30.5,34.5,38.5,41,42,43,44,45],"labelExpr":"['10/12/2012','11/12/2012','12/12/2012','13/12/2012','17/12/2012','10/12/12','11/12/12','12/12/12','13/12/2012','17/12/2012','10','11','12','13','17'][indexof([2.5,6.5,10.5,14.5,18.5,22.5,26.5,30.5,34.5,38.5,41,42,43,44,45],datum.value)]","ticks":false,"domain":true,"domainColor":"#404040","labelPadding":-22,"labelBaseline":"middle","labelFontSize":9.5,"labelOverlap":false,"labelFlush":false,"grid":false}},
"y":{"field":"r","type":"quantitative","scale":{"domain":[0,1000],"nice":false},"axis":{"orient":"right","values":[0,100,200,300,400,500,600,700,800,900,1000],"format":"d","title":["RADIACIÓN SOLAR","(W/m2)"],"titleAngle":270,"titleBaseline":"bottom","titleFontSize":10,"titleFontWeight":"bold","titlePadding":5,"labelFontSize":10.5,"labelPadding":2,"labelOverlap":false,"ticks":true,"tickSize":4,"tickColor":"#bfbfbf","grid":false,"domainColor":"#bfbfbf"}},
"color":{"field":"serie","type":"nominal","scale":{"domain":["P1","P2","P3","P4","P5","P6","P7","P8","P9","P10","P11","P12","P13","P14","P15","P16","P17","P18","P19","P20","P21","P22","P23","P24","P25","P26","P27","P28","P29","P30","R"],"range":["#5b7f99","#a89070","#a0434f","#c9a85a","#90b4cf","#d9a3ad","#5f8a6a","#d49a9a","#a86a7c","#e6d3b3","#afc8dc","#e3b5bd","#a9c2a9","#c4a3b5","#e8b9c7","#f0d9d3","#8a5a72","#4c8a62","#6e3e42","#8c5a6e","#b8975a","#6f96b0","#7a4456","#74a47e","#7d4a48","#a3535f","#cfa63f","#4d8fa8","#c8677a","#86b08a","#6ea9c0"]},"legend":{"orient":"none","legendX":803,"legendY":-37,"title":null,"symbolType":"stroke","symbolSize":625,"symbolStrokeWidth":2,"clipHeight":9,"rowPadding":0.3,"labelFontSize":9.5,"labelOffset":2,"labelColor":"#333","padding":0,"symbolLimit":40,"labelExpr":"datum.label=='R'?'Rad. Solar (W/m²)':datum.label"}},
"strokeDash":{"field":"serie","type":"nominal","scale":{"domain":["P1","P2","P3","P4","P5","P6","P7","P8","P9","P10","P11","P12","P13","P14","P15","P16","P17","P18","P19","P20","P21","P22","P23","P24","P25","P26","P27","P28","P29","P30","R"],"range":[[1,0],[1,0],[1,0],[1,0],[1,0],[1,0],[1,0],[1,0],[1,0],[1,0],[1,0],[1,0],[1,0],[1,0],[1,0],[1,0],[1,0],[1,0],[1,0],[1,0],[1,0],[1,0],[1,0],[1,0],[1,0],[1,0],[1,0],[1,0],[1,0],[1,0],[4,3]]},"legend":{"orient":"none","legendX":803,"legendY":-37,"title":null,"symbolType":"stroke","symbolSize":625,"symbolStrokeWidth":2,"clipHeight":9,"rowPadding":0.3,"labelFontSize":9.5,"labelOffset":2,"labelColor":"#333","padding":0,"symbolLimit":40,"labelExpr":"datum.label=='R'?'Rad. Solar (W/m²)':datum.label"}}
}}
],
"resolve":{"scale":{"y":"independent"},"axis":{"x":"independent","y":"independent"}}
},
{
"title":{"text":["TALLER 7","- AGOSTO -"],"fontSize":13.5,"lineHeight":15,"offset":-28,"dx":6,"anchor":"middle","frame":"bounds"},
"width":724,"height":212,
"layer":[
{"layer":[
{"data":{"name":"grid"},"mark":{"type":"rule","color":"#d9d9d9","strokeWidth":1},
"encoding":{"y":{"field":"g","type":"quantitative","scale":{"domain":[0,1200],"nice":false},"axis":{"orient":"left","values":[0,200,400,600,800,1000,1200],"format":"d","title":["NIVEL DE ILUMINACIÓN","(Lux)"],"titleFontSize":10,"titleFontWeight":"bold","titlePadding":6,"labelFontSize":10,"labelPadding":8,"labelOverlap":false,"ticks":false,"grid":true,"gridColor":"#d9d9d9","domainColor":"#bfbfbf"}}}},
{"data":{"name":"bot"},
"transform":[{"fold":["P1","P2","P3","P4","P5","P6","P7","P8","P9","P10","P11","P12","P13","P14","P15","P16","P17","P18","P19","P20","P21","P22","P23","P24","P25","P26","P27","P28","P29","P30"],"as":["serie","v"]}],
"mark":{"type":"line","strokeWidth":1.2},
"encoding":{
"x":{"field":"i","type":"quantitative","scale":{"domain":[0.5,35.5],"nice":false,"zero":false},"axis":{"orient":"bottom","title":null,"values":[1,2,3,4,5,6,7,8,9,10,11,12,13,14,15,16,17,18,19,20,21,22,23,24,25,26,27,28,29,30,31,32,33,34,35],"labelExpr":"datum.value>30?'21:00':['08:00','11:00','16:00'][(datum.value-1)%3]","labelAngle":270,"labelFontSize":10,"labelPadding":6,"ticks":false,"domain":true,"domainColor":"#bfbfbf","grid":false,"labelOverlap":false,"labelFlush":false}},
"y":{"field":"v","type":"quantitative","scale":{"domain":[0,1200],"nice":false},"axis":{"orient":"left","values":[0,200,400,600,800,1000,1200],"format":"d","title":["NIVEL DE ILUMINACIÓN","(Lux)"],"titleFontSize":10,"titleFontWeight":"bold","titlePadding":6,"labelFontSize":10,"labelPadding":8,"labelOverlap":false,"ticks":false,"grid":true,"gridColor":"#d9d9d9","domainColor":"#bfbfbf"}},
"color":{"field":"serie","type":"nominal","scale":{"domain":["P1","P2","P3","P4","P5","P6","P7","P8","P9","P10","P11","P12","P13","P14","P15","P16","P17","P18","P19","P20","P21","P22","P23","P24","P25","P26","P27","P28","P29","P30","R"],"range":["#5b7f99","#a89070","#a0434f","#d8c8a0","#90b4cf","#d9a3ad","#7f9e8a","#d49a9a","#a0505e","#e6d3b3","#afc8dc","#e3b5bd","#a9c2a9","#c4a3b5","#e8b9c7","#f0d9d3","#8a5a72","#3f7a55","#a08a80","#8c3a44","#9a7a3a","#8fa8b8","#6a3a50","#74a47e","#9a7060","#7d3e4a","#cfa63f","#6aaac0","#c8677a","#86b08a","#6ea9c0"]},"legend":{"orient":"none","legendX":802,"legendY":-50,"title":null,"symbolType":"stroke","symbolSize":625,"symbolStrokeWidth":2,"clipHeight":9,"rowPadding":0.53,"labelFontSize":9.5,"labelOffset":2,"labelColor":"#333","padding":0,"symbolLimit":40,"labelExpr":"datum.label=='R'?'Rad. Solar (W/m²)':datum.label"}},
"strokeDash":{"field":"serie","type":"nominal","scale":{"domain":["P1","P2","P3","P4","P5","P6","P7","P8","P9","P10","P11","P12","P13","P14","P15","P16","P17","P18","P19","P20","P21","P22","P23","P24","P25","P26","P27","P28","P29","P30","R"],"range":[[1,0],[1,0],[1,0],[1,0],[1,0],[1,0],[1,0],[1,0],[1,0],[1,0],[1,0],[1,0],[1,0],[1,0],[1,0],[1,0],[1,0],[1,0],[1,0],[1,0],[1,0],[1,0],[1,0],[1,0],[1,0],[1,0],[1,0],[1,0],[1,0],[1,0],[4,3]]},"legend":{"orient":"none","legendX":802,"legendY":-50,"title":null,"symbolType":"stroke","symbolSize":625,"symbolStrokeWidth":2,"clipHeight":9,"rowPadding":0.53,"labelFontSize":9.5,"labelOffset":2,"labelColor":"#333","padding":0,"symbolLimit":40,"labelExpr":"datum.label=='R'?'Rad. Solar (W/m²)':datum.label"}}
}},
{"data":{"values":[{"a":0.5,"b":35.5,"y":900}]},
"mark":{"type":"rule","color":"#a3434e","strokeWidth":2},
"encoding":{
"x":{"field":"a","type":"quantitative","scale":{"domain":[0.5,35.5],"nice":false,"zero":false},"axis":{"orient":"bottom","title":null,"values":[0.5,3.5,6.5,9.5,12.5,15.5,18.5,21.5,24.5,27.5,30.5,31.5,32.5,33.5,34.5,35.5],"labels":false,"ticks":true,"tickSize":48,"tickColor":"#c8c8c8","domain":false,"grid":false}},
"x2":{"field":"b"},
"y":{"field":"y","type":"quantitative","scale":{"domain":[0,1200],"nice":false},"axis":{"orient":"left","values":[0,200,400,600,800,1000,1200],"format":"d","title":["NIVEL DE ILUMINACIÓN","(Lux)"],"titleFontSize":10,"titleFontWeight":"bold","titlePadding":6,"labelFontSize":10,"labelPadding":8,"labelOverlap":false,"ticks":false,"grid":true,"gridColor":"#d9d9d9","domainColor":"#bfbfbf"}}}},
{"data":{"values":[{"i":2.2,"v":940,"t":"Valor mínimo de servicio de iluminación\nestablecido por la Norma IRAM AADL J 20-04"}]},
"mark":{"type":"text","align":"left","baseline":"bottom","lineBreak":"\n","fontSize":9.5,"lineHeight":12,"color":"#333"},
"encoding":{
"x":{"field":"i","type":"quantitative","scale":{"domain":[0.5,35.5],"nice":false,"zero":false},"axis":{"orient":"bottom","offset":48,"values":[0.5,8,15.5,23,30.5,33,35.5],"tickSize":17,"tickColor":"#404040","tickOpacity":{"condition":{"test":"datum.value==8||datum.value==23||datum.value==33","value":0},"value":1},"labelExpr":"datum.value==8?'ILUMINACIÓN NATURAL':datum.value==23?'ILUMINACIÓN NATURAL Y ARTIFICIAL':datum.value==33?'IL. ARTIFICIAL':''","labelPadding":-9,"labelBaseline":"middle","labelFontSize":9.5,"labelFontWeight":"bold","labelColor":"#222","labelOverlap":false,"labelFlush":false,"domain":true,"domainColor":"#404040","grid":false,"title":["Tipo de","iluminación"],"titleX":-40,"titleY":3,"titleAngle":0,"titleAlign":"center","titleBaseline":"middle","titleFontSize":8.5,"titleFontWeight":"bold","titleLineHeight":10}},
"y":{"field":"v","type":"quantitative","scale":{"domain":[0,1200],"nice":false},"axis":{"orient":"left","values":[0,200,400,600,800,1000,1200],"format":"d","title":["NIVEL DE ILUMINACIÓN","(Lux)"],"titleFontSize":10,"titleFontWeight":"bold","titlePadding":6,"labelFontSize":10,"labelPadding":8,"labelOverlap":false,"ticks":false,"grid":true,"gridColor":"#d9d9d9","domainColor":"#bfbfbf"}},
"text":{"field":"t"}}}
],
"resolve":{"axis":{"x":"independent"}}},
{"data":{"name":"bot"},
"transform":[{"fold":["R"],"as":["serie","r"]}],
"mark":{"type":"line","strokeWidth":1.4},
"encoding":{
"x":{"field":"i","type":"quantitative","scale":{"domain":[0.5,35.5],"nice":false,"zero":false},"axis":{"orient":"bottom","offset":65,"title":null,"values":[2,5,8,11,14,17,20,23,26,29,31,32,33,34,35],"labelExpr":"['29/07/2013','30/07/2013','31/07/2013','01/08/2013','02/08/2013','29/07/2013','30/07/2013','31/07/2013','01/08/2013','02/08/2013','29/7','30/7','31/7','1/8','2/8'][indexof([2,5,8,11,14,17,20,23,26,29,31,32,33,34,35],datum.value)]","ticks":false,"domain":true,"domainColor":"#404040","labelPadding":-22,"labelBaseline":"middle","labelFontSize":9.5,"labelOverlap":false,"labelFlush":false,"grid":false}},
"y":{"field":"r","type":"quantitative","scale":{"domain":[0,1000],"nice":false},"axis":{"orient":"right","values":[0,100,200,300,400,500,600,700,800,900,1000],"format":"d","title":["RADIACIÓN SOLAR","(W/m2)"],"titleAngle":270,"titleBaseline":"bottom","titleFontSize":10,"titleFontWeight":"bold","titlePadding":5,"labelFontSize":10.5,"labelPadding":2,"labelOverlap":false,"ticks":true,"tickSize":4,"tickColor":"#bfbfbf","grid":false,"domainColor":"#bfbfbf"}},
"color":{"field":"serie","type":"nominal","scale":{"domain":["P1","P2","P3","P4","P5","P6","P7","P8","P9","P10","P11","P12","P13","P14","P15","P16","P17","P18","P19","P20","P21","P22","P23","P24","P25","P26","P27","P28","P29","P30","R"],"range":["#5b7f99","#a89070","#a0434f","#d8c8a0","#90b4cf","#d9a3ad","#7f9e8a","#d49a9a","#a0505e","#e6d3b3","#afc8dc","#e3b5bd","#a9c2a9","#c4a3b5","#e8b9c7","#f0d9d3","#8a5a72","#3f7a55","#a08a80","#8c3a44","#9a7a3a","#8fa8b8","#6a3a50","#74a47e","#9a7060","#7d3e4a","#cfa63f","#6aaac0","#c8677a","#86b08a","#6ea9c0"]},"legend":{"orient":"none","legendX":802,"legendY":-50,"title":null,"symbolType":"stroke","symbolSize":625,"symbolStrokeWidth":2,"clipHeight":9,"rowPadding":0.53,"labelFontSize":9.5,"labelOffset":2,"labelColor":"#333","padding":0,"symbolLimit":40,"labelExpr":"datum.label=='R'?'Rad. Solar (W/m²)':datum.label"}},
"strokeDash":{"field":"serie","type":"nominal","scale":{"domain":["P1","P2","P3","P4","P5","P6","P7","P8","P9","P10","P11","P12","P13","P14","P15","P16","P17","P18","P19","P20","P21","P22","P23","P24","P25","P26","P27","P28","P29","P30","R"],"range":[[1,0],[1,0],[1,0],[1,0],[1,0],[1,0],[1,0],[1,0],[1,0],[1,0],[1,0],[1,0],[1,0],[1,0],[1,0],[1,0],[1,0],[1,0],[1,0],[1,0],[1,0],[1,0],[1,0],[1,0],[1,0],[1,0],[1,0],[1,0],[1,0],[1,0],[4,3]]},"legend":{"orient":"none","legendX":802,"legendY":-50,"title":null,"symbolType":"stroke","symbolSize":625,"symbolStrokeWidth":2,"clipHeight":9,"rowPadding":0.53,"labelFontSize":9.5,"labelOffset":2,"labelColor":"#333","padding":0,"symbolLimit":40,"labelExpr":"datum.label=='R'?'Rad. Solar (W/m²)':datum.label"}}
}}
],
"resolve":{"scale":{"y":"independent"},"axis":{"x":"independent","y":"independent"}}
}
]
}
